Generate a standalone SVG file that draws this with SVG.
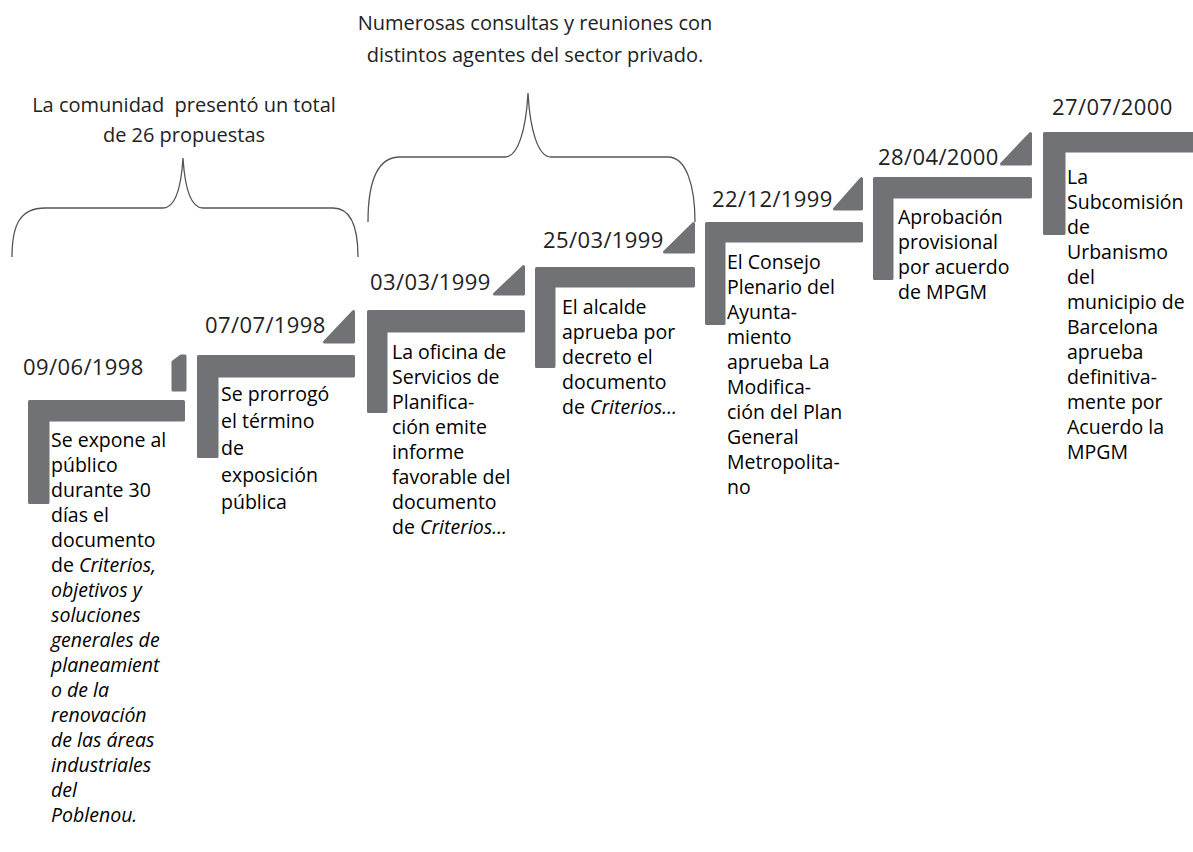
<svg xmlns="http://www.w3.org/2000/svg" width="1193" height="852" viewBox="0 0 1193 852">
<style>
.bar{fill:#717275;stroke:#717275;stroke-width:3;stroke-linejoin:round}
.date{font-family:"Open Sans","Liberation Sans",sans-serif;font-size:22px;fill:#222;letter-spacing:0.4px}
.body{font-family:"Open Sans","Liberation Sans",sans-serif;font-size:19.5px;fill:#000}
.note{font-family:"Open Sans","Liberation Sans",sans-serif;font-size:20px;fill:#222;text-anchor:middle}
.brace{fill:none;stroke:#555;stroke-width:1.3}
.it{font-style:italic}
</style>
<rect width="1193" height="852" fill="#fff"/>
<g id="connectors">
<path class="brace" d="M12,257 C12,225 20,208 45,208 L163,208 C175,208 181,190 183,158 C185,190 191,208 203,208 L333,208 C350,208 358,225 358,257"/>
<path class="brace" d="M368,222 C368,185 376,157 400,157 L505,157 C518,157 526,130 528,93 C530,130 538,157 551,157 L668,157 C686,157 695,185 695,222"/>
</g>
<g id="note1">
<text class="note" x="184" y="112">La comunidad&#160; presentó un total</text>
<text class="note" x="184" y="142">de 26 propuestas</text>
</g>
<g id="note2">
<text class="note" x="535" y="30">Numerosas consultas y reuniones con</text>
<text class="note" x="535" y="62">distintos agentes del sector privado.</text>
</g>
<g id="n1">
<path class="bar" d="M173,390 V362 L181,356 H185 V390 Z"/>
<path class="bar" d="M29.5,401.5 H183.5 V420 H48 V502.5 H29.5 Z"/>
<text class="date" x="23" y="375">09/06/1998</text>
<text class="body" x="51">
<tspan x="51" y="447">Se expone al</tspan>
<tspan x="51" y="472">público</tspan>
<tspan x="51" y="497">durante 30</tspan>
<tspan x="51" y="522">días el</tspan>
<tspan x="51" y="547">documento</tspan>
<tspan x="51" y="572">de <tspan class="it">Criterios,</tspan></tspan>
<tspan x="51" y="597" class="it">objetivos y</tspan>
<tspan x="51" y="622" class="it">soluciones</tspan>
<tspan x="51" y="647" class="it">generales de</tspan>
<tspan x="51" y="672" class="it">planeamient</tspan>
<tspan x="51" y="697" class="it">o de la</tspan>
<tspan x="51" y="722" class="it">renovación</tspan>
<tspan x="51" y="747" class="it">de las áreas</tspan>
<tspan x="51" y="772" class="it">industriales</tspan>
<tspan x="51" y="797" class="it">del</tspan>
<tspan x="51" y="822" class="it">Poblenou.</tspan>
</text>
</g>
<g id="n2">
<path class="bar" d="M324.5,342 L353.5,311.5 V342 Z"/>
<path class="bar" d="M198.5,356.5 H353.5 V376 H217 V456.5 H198.5 Z"/>
<text class="date" x="205" y="333">07/07/1998</text>
<text class="body">
<tspan x="221" y="401">Se prorrogó</tspan>
<tspan x="221" y="428">el término</tspan>
<tspan x="221" y="455">de</tspan>
<tspan x="221" y="482">exposición</tspan>
<tspan x="221" y="509">pública</tspan>
</text>
</g>
<g id="n3">
<path class="bar" d="M494.5,294 L523.5,266.5 V294 Z"/>
<path class="bar" d="M368.5,311.5 H523.5 V331 H386 V411.5 H368.5 Z"/>
<text class="date" x="370" y="290">03/03/1999</text>
<text class="body">
<tspan x="392" y="359">La oficina de</tspan>
<tspan x="392" y="384">Servicios de</tspan>
<tspan x="392" y="409">Planifica-</tspan>
<tspan x="392" y="434">ción emite</tspan>
<tspan x="392" y="459">informe</tspan>
<tspan x="392" y="484">favorable del</tspan>
<tspan x="392" y="509">documento</tspan>
<tspan x="392" y="534">de <tspan class="it">Criterios…</tspan></tspan>
</text>
</g>
<g id="n4">
<path class="bar" d="M664.5,252 L693.5,223.5 V252 Z"/>
<path class="bar" d="M536.5,268.5 H693.5 V286 H554 V366.5 H536.5 Z"/>
<text class="date" x="543" y="248">25/03/1999</text>
<text class="body">
<tspan x="562" y="314">El alcalde</tspan>
<tspan x="562" y="339">aprueba por</tspan>
<tspan x="562" y="364">decreto el</tspan>
<tspan x="562" y="389">documento</tspan>
<tspan x="562" y="414">de <tspan class="it">Criterios…</tspan></tspan>
</text>
</g>
<g id="n5">
<path class="bar" d="M834.5,209 L861.5,178.5 V209 Z"/>
<path class="bar" d="M706.5,223.5 H861.5 V241 H724 V323.5 H706.5 Z"/>
<text class="date" x="712" y="207">22/12/1999</text>
<text class="body">
<tspan x="727" y="269">El Consejo</tspan>
<tspan x="727" y="294">Plenario del</tspan>
<tspan x="727" y="319">Ayunta-</tspan>
<tspan x="727" y="344">miento</tspan>
<tspan x="727" y="369">aprueba La</tspan>
<tspan x="727" y="394">Modifica-</tspan>
<tspan x="727" y="419">ción del Plan</tspan>
<tspan x="727" y="444">General</tspan>
<tspan x="727" y="469">Metropolita-</tspan>
<tspan x="727" y="494">no</tspan>
</text>
</g>
<g id="n6">
<path class="bar" d="M1001.5,164 L1030.5,133.5 V164 Z"/>
<path class="bar" d="M874.5,178.5 H1030.5 V197 H892 V278.5 H874.5 Z"/>
<text class="date" x="878" y="165">28/04/2000</text>
<text class="body">
<tspan x="898" y="224">Aprobación</tspan>
<tspan x="898" y="249">provisional</tspan>
<tspan x="898" y="274">por acuerdo</tspan>
<tspan x="898" y="299">de MPGM</tspan>
</text>
</g>
<g id="n7">
<path class="bar" d="M1044.5,133.5 H1200 V151 H1064 V233.5 H1044.5 Z"/>
<text class="date" x="1052" y="115">27/07/2000</text>
<text class="body">
<tspan x="1067" y="184">La</tspan>
<tspan x="1067" y="209">Subcomisión</tspan>
<tspan x="1067" y="234">de</tspan>
<tspan x="1067" y="259">Urbanismo</tspan>
<tspan x="1067" y="284">del</tspan>
<tspan x="1067" y="309">municipio de</tspan>
<tspan x="1067" y="334">Barcelona</tspan>
<tspan x="1067" y="359">aprueba</tspan>
<tspan x="1067" y="384">definitiva-</tspan>
<tspan x="1067" y="409">mente por</tspan>
<tspan x="1067" y="434">Acuerdo la</tspan>
<tspan x="1067" y="459">MPGM</tspan>
</text>
</g>
</svg>
